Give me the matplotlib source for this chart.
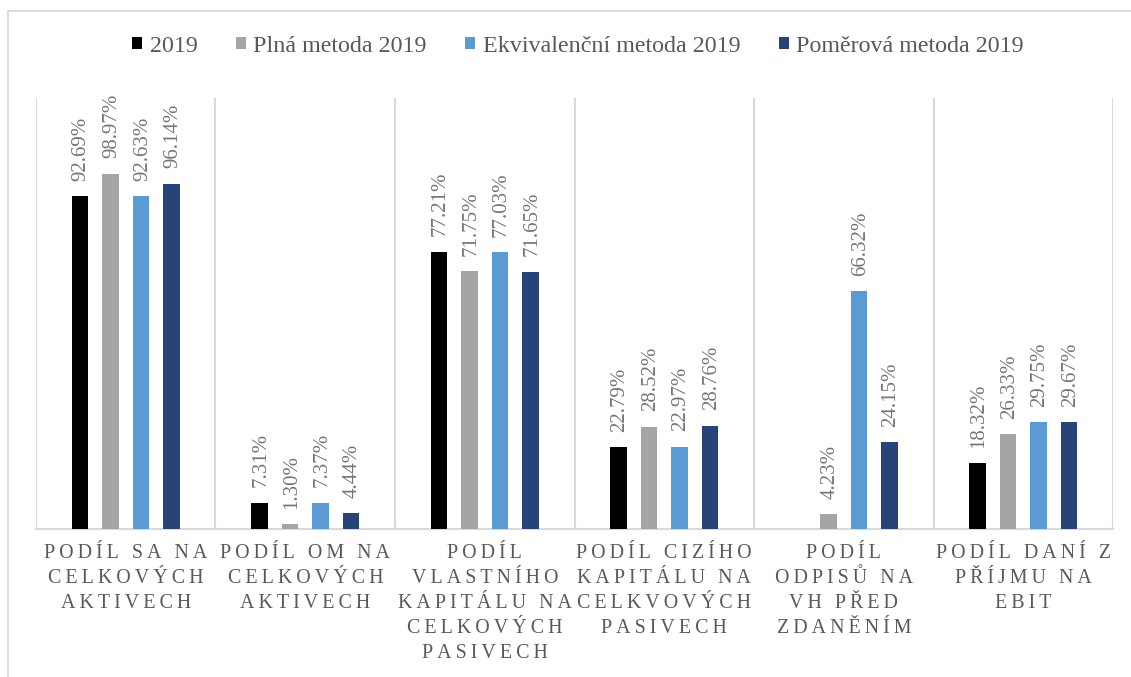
import numpy as np
import matplotlib
matplotlib.use('Agg')
import matplotlib.pyplot as plt
from matplotlib.patches import Rectangle

plt.rcParams['font.family'] = ['Liberation Serif', 'DejaVu Serif']

categories = [
    'PODÍL SA NA\nCELKOVÝCH\nAKTIVECH',
    'PODÍL OM NA\nCELKOVÝCH\nAKTIVECH',
    'PODÍL\nVLASTNÍHO\nKAPITÁLU NA\nCELKOVÝCH\nPASIVECH',
    'PODÍL CIZÍHO\nKAPITÁLU NA\nCELKVOVÝCH\nPASIVECH',
    'PODÍL\nODPISŮ NA\nVH PŘED\nZDANĚNÍM',
    'PODÍL DANÍ Z\nPŘÍJMU NA\nEBIT',
]
series_names = ['2019', 'Plná metoda 2019', 'Ekvivalenční metoda 2019', 'Poměrová metoda 2019']
v2019 = [92.69, 7.31, 77.21, 22.79, np.nan, 18.32]
plna = [98.97, 1.30, 71.75, 28.52, 4.23, 26.33]
ekviv = [92.63, 7.37, 77.03, 22.97, 66.32, 29.75]
pomer = [96.14, 4.44, 71.65, 28.76, 24.15, 29.67]

colors = ['#000000', '#a5a5a5', '#5b9bd5', '#264478']
grid_col = '#d9d9d9'
text_col = '#595959'


def spaced(label):
    # imitate the wide character spacing of the original labels
    return '\n'.join('\u2009'.join(line) for line in label.split('\n'))


fig = plt.figure(figsize=(11.31, 6.77), dpi=100)
ax = fig.add_axes([0.0318, 0.2186, 0.9524, 0.6366])

x = np.arange(len(categories))
width = 0.091
step = 0.17
all_series = [v2019, plna, ekviv, pomer]
for i, (name, vals, col) in enumerate(zip(series_names, all_series, colors)):
    pos = x + (i - 1.5) * step
    ax.bar(pos, vals, width, color=col, label=name, zorder=3)
    for px, v in zip(pos, vals):
        if np.isnan(v):
            continue
        ax.annotate(f'{v:.2f}%', (px, v), xytext=(1, 11), textcoords='offset points',
                    rotation=90, ha='center', va='bottom', fontsize=15, color='#767676')

ax.set_xlim(-0.5, len(categories) - 0.5)
ax.set_ylim(0, 120)
ax.set_yticks([])
for b in np.arange(len(categories) + 1) - 0.5:
    ax.axvline(b, color=grid_col, lw=1.5, zorder=1)
for s in ['top', 'left', 'right']:
    ax.spines[s].set_visible(False)
ax.spines['bottom'].set_color(grid_col)
ax.spines['bottom'].set_linewidth(1.5)

ax.set_xticks(x)
ax.set_xticklabels([spaced(c) for c in categories], fontsize=14.4, color=text_col,
                   linespacing=1.43)
ax.tick_params(axis='x', length=0, pad=11)

fig.legend(loc='center', bbox_to_anchor=(0.511, 0.932), ncol=4, frameon=False,
           fontsize=17.3, labelcolor=text_col, handlelength=0.42, handleheight=0.42,
           handletextpad=0.3, columnspacing=1.6)

fig.add_artist(Rectangle((0.0071, -0.1), 1.2, 1.0837, transform=fig.transFigure,
                         fill=False, edgecolor=grid_col, lw=1.3))

fig.savefig('out.png', dpi=100)
